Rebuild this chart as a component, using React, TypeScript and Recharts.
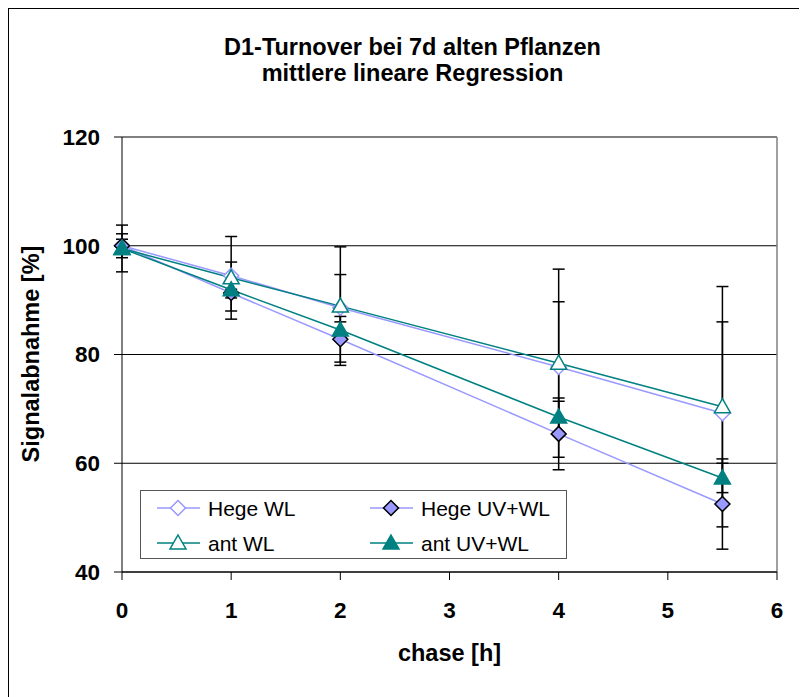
import React from 'react';
import { ComposedChart, Line, XAxis, YAxis, CartesianGrid, ErrorBar, ReferenceLine, Legend } from 'recharts';

// chase time points [h]
const chaseHours = [0, 1, 2, 4, 5.5];

// mean signal [%] and error per series
const hegeWL = [100, 94.5, 88.6, 77.7, 69.2];
const hegeWLErr = [1.2, 2.5, 6.1, 12, 16.8];
const hegeUV = [100, 91.3, 82.8, 65.4, 52.5];
const hegeUVErr = [2.2, 3.3, 4.2, 6.6, 8.3];
const antWL = [99.5, 94.1, 88.9, 78.4, 70.4];
const antWLErr = [4.3, 7.6, 10.9, 17.3, 22.1];
const antUV = [99.5, 91.9, 84.5, 68.5, 57.3];
const antUVErr = [0.8, 1.5, 1.5, 2.9, 2.7];

const xTicks = [0, 1, 2, 3, 4, 5, 6];
const yTicks = [40, 60, 80, 100, 120];

const data = chaseHours.map((h, i) => ({
  h,
  hegeWL: hegeWL[i], hegeWLErr: hegeWLErr[i],
  hegeUV: hegeUV[i], hegeUVErr: hegeUVErr[i],
  antWL: antWL[i], antWLErr: antWLErr[i],
  antUV: antUV[i], antUVErr: antUVErr[i],
}));

const PURPLE = '#9999FF';
const TEAL = '#008080';
const FONT = '"Liberation Sans", Arial, sans-serif';

type Shape = 'diamond' | 'triangle';

function Marker({ cx, cy, shape, fill, stroke }: { cx: number; cy: number; shape: Shape; fill: string; stroke: string }) {
  if (shape === 'diamond') {
    const r = 7.5;
    return <polygon points={`${cx},${cy - r} ${cx + r},${cy} ${cx},${cy + r} ${cx - r},${cy}`} fill={fill} stroke={stroke} strokeWidth={1.5} />;
  }
  return <polygon points={`${cx},${cy - 8} ${cx + 8},${cy + 6} ${cx - 8},${cy + 6}`} fill={fill} stroke={stroke} strokeWidth={1.5} />;
}

const series = [
  { key: 'hegeWL', name: 'Hege WL', line: PURPLE, shape: 'diamond' as Shape, fill: '#fff', stroke: PURPLE },
  { key: 'hegeUV', name: 'Hege UV+WL', line: PURPLE, shape: 'diamond' as Shape, fill: PURPLE, stroke: '#000' },
  { key: 'antWL', name: 'ant WL', line: TEAL, shape: 'triangle' as Shape, fill: '#fff', stroke: TEAL },
  { key: 'antUV', name: 'ant UV+WL', line: TEAL, shape: 'triangle' as Shape, fill: TEAL, stroke: TEAL },
];

function LegendBox() {
  const item = (s: typeof series[number], x: number, y: number) => (
    <g key={s.key}>
      <line x1={x} y1={y} x2={x + 43} y2={y} stroke={s.line} strokeWidth={1.5} />
      <Marker cx={x + 21} cy={y} shape={s.shape} fill={s.fill} stroke={s.stroke} />
      <text x={x + 51} y={y} dominantBaseline="central" fontSize={21} fontFamily={FONT} fill="#000">{s.name}</text>
    </g>
  );
  return (
    <svg width={427} height={69} style={{ display: 'block', background: '#fff', border: '1px solid #555', boxSizing: 'border-box' }}>
      {item(series[0], 16, 17)}
      {item(series[1], 229, 17)}
      {item(series[2], 16, 52)}
      {item(series[3], 229, 52)}
    </svg>
  );
}

export default function App() {
  return (
    <div style={{ width: 798, height: 688, borderLeft: '1px solid #000', borderTop: '1px solid #000', fontFamily: FONT }}>
      <ComposedChart width={790} height={680} data={data} margin={{ top: 128, right: 22, left: 53, bottom: 57 }}>
        <CartesianGrid vertical={false} stroke="#000" />
        <XAxis dataKey="h" type="number" domain={[0, 6]} ticks={xTicks} tickSize={8} tickMargin={22} height={60}
          axisLine={{ stroke: '#000' }} tickLine={{ stroke: '#000' }}
          tick={{ fill: '#000', fontSize: 22.5, fontWeight: 'bold', fontFamily: FONT }} />
        <YAxis type="number" domain={[40, 120]} ticks={yTicks} tickSize={8} tickMargin={14} width={60}
          axisLine={{ stroke: '#000' }} tickLine={{ stroke: '#000' }}
          tick={{ fill: '#000', fontSize: 22.5, fontWeight: 'bold', fontFamily: FONT }} />
        <ReferenceLine y={120} stroke="#808080" strokeWidth={1.5} />
        <ReferenceLine x={6} stroke="#808080" strokeWidth={1.5} />
        {series.map((s) => (
          <Line key={s.key} dataKey={s.key} name={s.name} type="linear" stroke={s.line} strokeWidth={1.5}
            isAnimationActive={false}
            dot={(p: any) => <Marker key={`${s.key}-${p.index}`} cx={p.cx} cy={p.cy} shape={s.shape} fill={s.fill} stroke={s.stroke} />}
            activeDot={false}>
            <ErrorBar dataKey={`${s.key}Err`} direction="y" width={6} stroke="#000" strokeWidth={1.5} isAnimationActive={false} />
          </Line>
        ))}
        <Legend layout="horizontal" verticalAlign="middle" align="center" content={() => <LegendBox />}
          wrapperStyle={{ left: 131, top: 481, width: 427, height: 69 }} />
        <text x={403.5} y={46} textAnchor="middle" fontSize={23.5} fontWeight="bold" fontFamily={FONT} fill="#000">D1-Turnover bei 7d alten Pflanzen</text>
        <text x={403.5} y={72} textAnchor="middle" fontSize={23.5} fontWeight="bold" fontFamily={FONT} fill="#000">mittlere lineare Regression</text>
        <text x={440.5} y={652} textAnchor="middle" fontSize={23.5} fontWeight="bold" fontFamily={FONT} fill="#000">chase [h]</text>
        <text x={22} y={345} transform="rotate(-90 22 345)" textAnchor="middle" dominantBaseline="central" fontSize={23.5} fontWeight="bold" fontFamily={FONT} fill="#000">Signalabnahme [%]</text>
      </ComposedChart>
    </div>
  );
}
